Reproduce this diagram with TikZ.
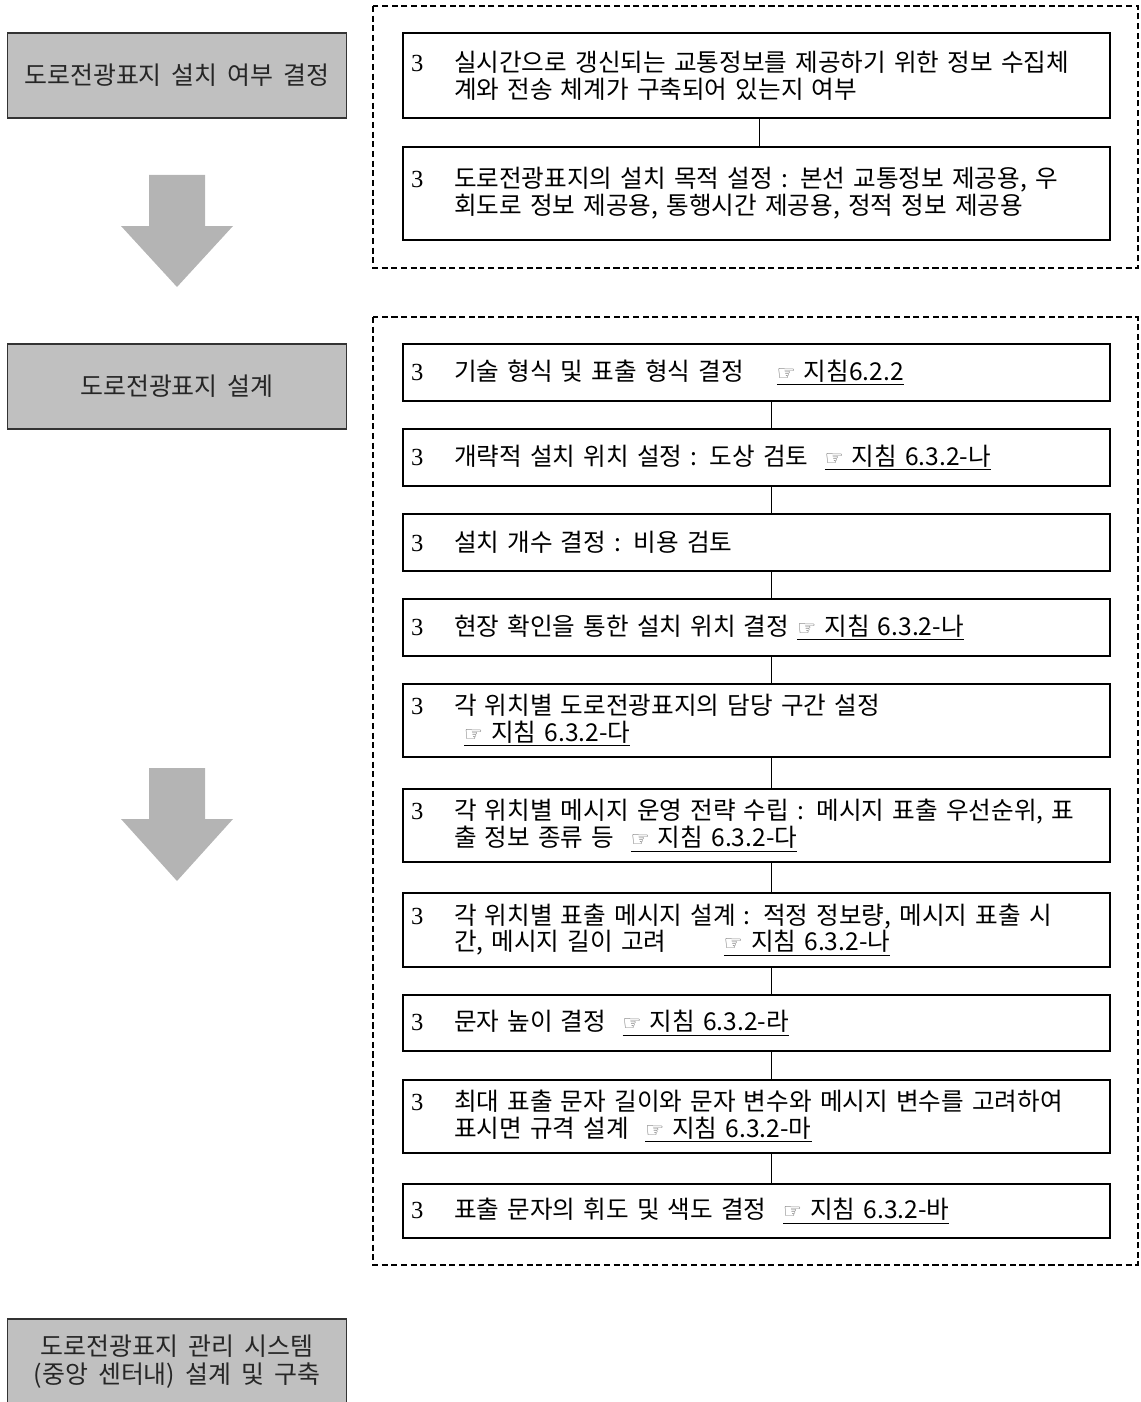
\documentclass[tikz,border=0pt]{standalone}
\usepackage{fontspec}
\setmainfont[WordSpace=1.8]{Noto Sans CJK KR}
\newfontfamily\numfont{Liberation Serif}
\newfontfamily\symfont{DejaVu Sans}
\definecolor{boxgray}{HTML}{C0C0C0}
\definecolor{arrowgray}{HTML}{B4B4B4}
\newcommand{\itm}[1]{\makebox[0.86cm][l]{\numfont 3}\parbox[t]{12.9cm}{#1}}
\newcommand{\gd}[1]{\underline{{\symfont\fontsize{12}{12}\selectfont\color{black!60}☞} #1}}

\begin{document}
\begin{tikzpicture}
    [
        x=0.02cm, y=-0.02cm,
        phase/.style = {draw=black!80, fill=boxgray, line width=0.6pt, minimum width=6.8cm, text=black!85, align=center, font=\fontsize{14.2}{15.9}\selectfont},
        stepbox/.style = {draw, line width=0.8pt, text width=13.82cm, inner xsep=0.16cm, align=left, font=\fontsize{14}{15.3}\selectfont},
        dashbox/.style = {draw, dash pattern=on 3.5pt off 2pt, line width=0.6pt},
    ]

    \useasboundingbox (0,0) rectangle (1140,1402);

    % left column
    \node[phase, minimum height=1.7cm] (p1) at (177,75.5) {도로전광표지 설치 여부 결정};
    \node[phase, minimum height=1.7cm] (p2) at (177,386.5) {도로전광표지 설계};
    \node[phase, minimum height=1.72cm] (p3) at (177,1362) {도로전광표지 관리 시스템\\(중앙 센터내) 설계 및 구축};

    \fill[arrowgray] (149,175) -- (205,175) -- (205,226) -- (233,226) -- (177,287) -- (121,226) -- (149,226) -- cycle;
    \fill[arrowgray] (149,768) -- (205,768) -- (205,819) -- (233,819) -- (177,881) -- (121,819) -- (149,819) -- cycle;

    % dashed groups
    \draw[dashbox] (373,6) rectangle (1138,268);
    \draw[dashbox] (373,317) rectangle (1138,1265);

    \coordinate (c1) at (759,0);
    \coordinate (c2) at (771,0);

    \node[stepbox, minimum height=1.7cm] (q1) at (756.5,75.5) {\itm{실시간으로 갱신되는 교통정보를 제공하기 위한 정보 수집체\\계와 전송 체계가 구축되어 있는지 여부}};
    \node[stepbox, minimum height=1.86cm] (q2) at (756.5,193.5) {\itm{도로전광표지의 설치 목적 설정 : 본선 교통정보 제공용, 우\\회도로 정보 제공용, 통행시간 제공용, 정적 정보 제공용}};

    \node[stepbox, minimum height=1.14cm] (s1) at (756.5,372.5) {\itm{기술 형식 및 표출 형식 결정 \quad\gd{지침6.2.2}}};
    \node[stepbox, minimum height=1.14cm] (s2) at (756.5,457.5) {\itm{개략적 설치 위치 설정 : 도상 검토 \ \gd{지침 6.3.2-나}}};
    \node[stepbox, minimum height=1.14cm] (s3) at (756.5,542.5) {\itm{설치 개수 결정 : 비용 검토}};
    \node[stepbox, minimum height=1.14cm] (s4) at (756.5,627.5) {\itm{현장 확인을 통한 설치 위치 결정 \gd{지침 6.3.2-나}}};
    \node[stepbox, minimum height=1.46cm] (s5) at (756.5,720.5) {\itm{각 위치별 도로전광표지의 담당 구간 설정\\\hspace*{0.2cm}\gd{지침 6.3.2-다}}};
    \node[stepbox, minimum height=1.46cm] (s6) at (756.5,825.5) {\itm{각 위치별 메시지 운영 전략 수립 : 메시지 표출 우선순위, 표\\출 정보 종류 등 \ \gd{지침 6.3.2-다}}};
    \node[stepbox, minimum height=1.48cm] (s7) at (756.5,930) {\itm{각 위치별 표출 메시지 설계 : 적정 정보량, 메시지 표출 시\\간, 메시지 길이 고려 \qquad\gd{지침 6.3.2-나}}};
    \node[stepbox, minimum height=1.12cm] (s8) at (756.5,1023) {\itm{문자 높이 결정 \ \gd{지침 6.3.2-라}}};
    \node[stepbox, minimum height=1.46cm] (s9) at (756.5,1116.5) {\itm{최대 표출 문자 길이와 문자 변수와 메시지 변수를 고려하여\\표시면 규격 설계 \ \gd{지침 6.3.2-마}}};
    \node[stepbox, minimum height=1.08cm] (s10) at (756.5,1211) {\itm{표출 문자의 휘도 및 색도 결정 \ \gd{지침 6.3.2-바}}};

    \draw (q1.south -| c1) -- (q2.north -| c1);

    \draw (s1.south -| c2) -- (s2.north -| c2);
    \draw (s2.south -| c2) -- (s3.north -| c2);
    \draw (s3.south -| c2) -- (s4.north -| c2);
    \draw (s4.south -| c2) -- (s5.north -| c2);
    \draw (s5.south -| c2) -- (s6.north -| c2);
    \draw (s6.south -| c2) -- (s7.north -| c2);
    \draw (s7.south -| c2) -- (s8.north -| c2);
    \draw (s8.south -| c2) -- (s9.north -| c2);
    \draw (s9.south -| c2) -- (s10.north -| c2);
\end{tikzpicture}
\end{document}
